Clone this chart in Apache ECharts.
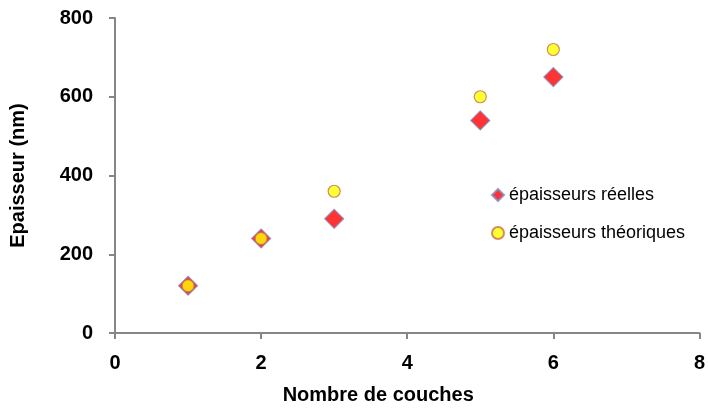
<!DOCTYPE html>
<html><head><meta charset="utf-8">
<script src="https://cdn.jsdelivr.net/npm/echarts@6/dist/echarts.min.js"></script>
<style>html,body{margin:0;padding:0;background:#fff}#c{width:708px;height:412px}</style>
</head><body><div id="c"></div>
<script>
const couches = [1, 2, 3, 5, 6];
const reelles = [120, 240, 290, 540, 650];
const theoriques = [120, 240, 360, 600, 720];
const xTicks = [0, 2, 4, 6, 8];
const yTicks = [0, 200, 400, 600, 800];

const chart = echarts.init(document.getElementById('c'), null, {renderer: 'canvas'});
const font = '"Liberation Sans", Arial, sans-serif';
chart.setOption({
  animation: false,
  backgroundColor: '#fff',
  grid: {left: 114, right: 6, top: 18, bottom: 79, containLabel: false},
  xAxis: {
    type: 'value', min: xTicks[0], max: xTicks[xTicks.length - 1], interval: 2,
    name: 'Nombre de couches', nameLocation: 'middle', nameGap: 52,
    nameTextStyle: {fontFamily: font, fontWeight: 'bold', fontSize: 20, color: '#000', padding: [0, 58, 0, 0]},
    axisLine: {lineStyle: {color: '#868686', width: 2}},
    axisTick: {show: true, length: 6, lineStyle: {color: '#868686', width: 2}},
    axisLabel: {margin: 20, fontFamily: font, fontWeight: 'bold', fontSize: 20, color: '#000'},
    splitLine: {show: false}
  },
  yAxis: {
    type: 'value', min: yTicks[0], max: yTicks[yTicks.length - 1], interval: 200,
    name: 'Epaisseur (nm)', nameLocation: 'middle', nameGap: 87, nameRotate: 90,
    nameTextStyle: {fontFamily: font, fontWeight: 'bold', fontSize: 20, color: '#000'},
    axisLine: {show: true, lineStyle: {color: '#868686', width: 2}},
    axisTick: {show: true, length: 6, lineStyle: {color: '#868686', width: 2}},
    axisLabel: {margin: 22, fontFamily: font, fontWeight: 'bold', fontSize: 20, color: '#000'},
    splitLine: {show: false}
  },
  legend: {
    orient: 'vertical', left: 486, top: 181, itemGap: 20,
    itemWidth: 12, itemHeight: 12,
    textStyle: {fontFamily: font, fontSize: 18, color: '#000'},
    data: ['épaisseurs réelles', 'épaisseurs théoriques']
  },
  series: [
    {
      name: 'épaisseurs réelles', type: 'scatter', symbol: 'diamond', symbolSize: 19,
      itemStyle: {color: '#ff0000', borderColor: '#7f8cc0', borderWidth: 1.2},
      data: couches.map((x, i) => [x, reelles[i]])
    },
    {
      name: 'épaisseurs théoriques', type: 'scatter', symbol: 'circle', symbolSize: 12,
      itemStyle: {color: '#ffff00', borderColor: '#c8704a', borderWidth: 1.2},
      data: couches.map((x, i) => [x, theoriques[i]])
    }
  ]
});
</script></body></html>
